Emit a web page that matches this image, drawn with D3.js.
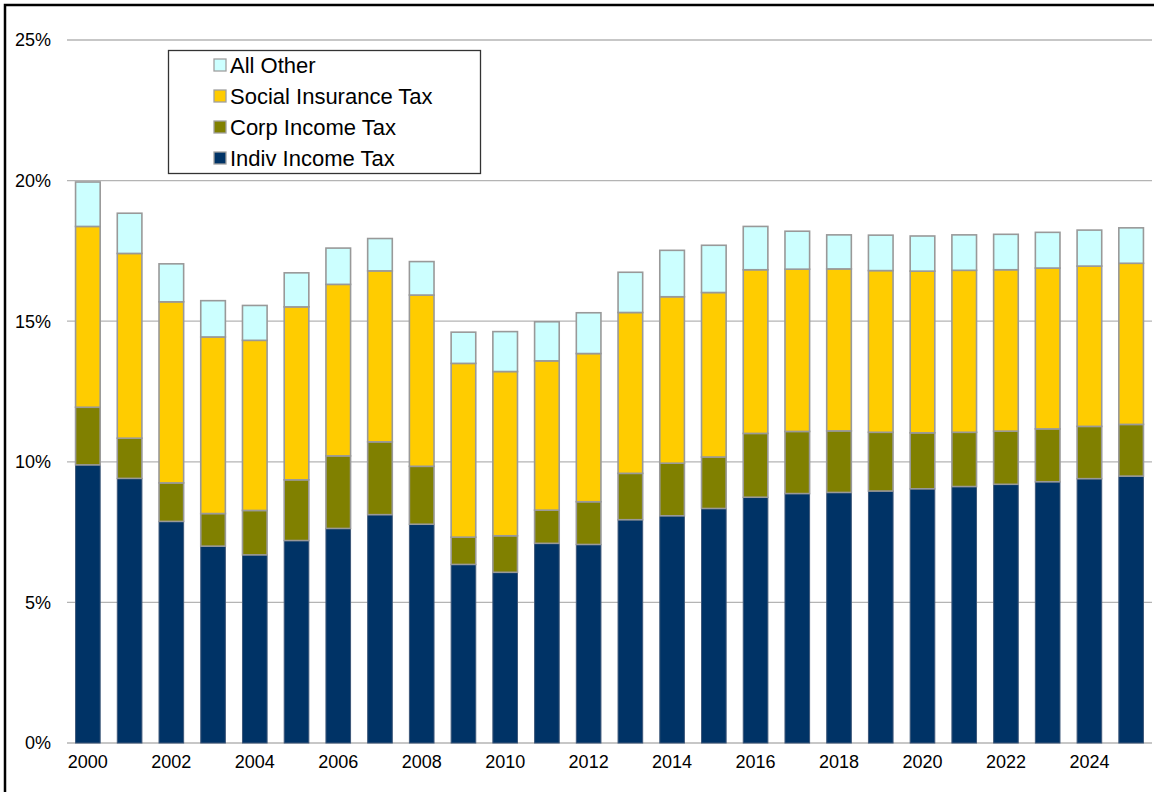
<!DOCTYPE html>
<html>
<head>
<meta charset="utf-8">
<script src="https://cdn.jsdelivr.net/npm/d3@7"></script>
<style>
    body { margin: 0; background: #fff; }
    svg { display: block; font-family: "Liberation Sans", Arial, sans-serif; }
    .grid line { stroke: #b4b4b4; stroke-width: 1.3; }
    .tick-label { font-size: 18px; fill: #000; }
    .legend-label { font-size: 22px; fill: #000; }
</style>
</head>
<body>
<div id="chart"></div>
<script>
// revenue as % of GDP
const years = d3.range(2000, 2026).map(String);
const indivIncome = [9.89, 9.41, 7.88, 7.00, 6.69, 7.20, 7.63, 8.12, 7.78, 6.35, 6.07, 7.10, 7.06, 7.94, 8.08, 8.34, 8.74, 8.87, 8.91, 8.96, 9.04, 9.12, 9.20, 9.29, 9.40, 9.49];
const corpIncome = [2.05, 1.43, 1.37, 1.16, 1.58, 2.16, 2.58, 2.59, 2.06, 0.97, 1.30, 1.18, 1.52, 1.65, 1.87, 1.83, 2.27, 2.21, 2.19, 2.09, 1.99, 1.93, 1.89, 1.88, 1.86, 1.84];
const socialInsurance = [6.43, 6.57, 6.44, 6.28, 6.05, 6.15, 6.10, 6.08, 6.09, 6.18, 5.84, 5.31, 5.27, 5.72, 5.92, 5.85, 5.82, 5.77, 5.76, 5.75, 5.75, 5.76, 5.74, 5.72, 5.70, 5.73];
const allOther = [1.58, 1.43, 1.35, 1.29, 1.24, 1.21, 1.29, 1.15, 1.19, 1.11, 1.42, 1.39, 1.45, 1.43, 1.65, 1.68, 1.54, 1.35, 1.21, 1.26, 1.25, 1.26, 1.26, 1.27, 1.28, 1.26];

const seriesKeys = ['indiv', 'corp', 'social', 'other'];
const seriesNames = ['Indiv Income Tax', 'Corp Income Tax', 'Social Insurance Tax', 'All Other'];
const seriesColors = ['#003366', '#808000', '#FFCC00', '#CCFFFF'];
const yTicks = [0, 5, 10, 15, 20, 25];

const W = 1154, H = 792;
const plot = {left: 67, right: 1152, top: 40, bottom: 743};

const rows = years.map((yr, i) => ({
    year: yr,
    indiv: indivIncome[i],
    corp: corpIncome[i],
    social: socialInsurance[i],
    other: allOther[i]
}));

const svg = d3.select('#chart').append('svg')
    .attr('width', W)
    .attr('height', H);

// outer frame (right and bottom edges fall outside the window)
svg.append('rect')
    .attr('x', 5).attr('y', 5)
    .attr('width', W + 10).attr('height', H + 10)
    .attr('fill', 'none')
    .attr('stroke', '#000')
    .attr('stroke-width', 2.5);

const x = d3.scaleBand()
    .domain(years)
    .range([plot.left, plot.right])
    .paddingInner(0.41)
    .paddingOuter(0.205);

const y = d3.scaleLinear()
    .domain([0, 25])
    .range([plot.bottom, plot.top]);

// horizontal grid + baseline
svg.append('g')
    .attr('class', 'grid')
    .selectAll('line')
    .data(yTicks)
    .enter().append('line')
    .attr('x1', plot.left)
    .attr('x2', plot.right)
    .attr('y1', d => y(d))
    .attr('y2', d => y(d));

// y labels
svg.append('g')
    .selectAll('text')
    .data(yTicks)
    .enter().append('text')
    .attr('class', 'tick-label')
    .attr('x', 51)
    .attr('y', d => y(d))
    .attr('dy', '0.35em')
    .attr('text-anchor', 'end')
    .text(d => d + '%');

// stacked bars
const stacked = d3.stack().keys(seriesKeys)(rows);

const layers = svg.append('g')
    .selectAll('g')
    .data(stacked)
    .enter().append('g')
    .attr('fill', (d, i) => seriesColors[i])
    .attr('stroke', (d, i) => i === 0 ? '#3d5779' : '#999999')
    .attr('stroke-width', (d, i) => i === 0 ? 1 : 1.6);

layers.selectAll('rect')
    .data(d => d)
    .enter().append('rect')
    .attr('x', d => x(d.data.year))
    .attr('width', x.bandwidth())
    .attr('y', d => y(d[1]))
    .attr('height', d => y(d[0]) - y(d[1]));

// x labels, every other year
svg.append('g')
    .selectAll('text')
    .data(years.filter((d, i) => i % 2 === 0))
    .enter().append('text')
    .attr('class', 'tick-label')
    .attr('x', d => x(d) + x.bandwidth() / 2)
    .attr('y', 768)
    .attr('text-anchor', 'middle')
    .text(d => d);

// legend
const legend = svg.append('g');

legend.append('rect')
    .attr('x', 168.5).attr('y', 50.5)
    .attr('width', 312).attr('height', 123)
    .attr('fill', '#fff')
    .attr('stroke', '#333')
    .attr('stroke-width', 1.3);

const legendOrder = [3, 2, 1, 0];
const items = legend.selectAll('.item')
    .data(legendOrder)
    .enter().append('g')
    .attr('class', 'item')
    .attr('transform', (d, i) => `translate(214,${65 + i * 31})`);

items.append('rect')
    .attr('x', 0).attr('y', -6)
    .attr('width', 12).attr('height', 12)
    .attr('fill', d => seriesColors[d])
    .attr('stroke', '#a0a0a0')
    .attr('stroke-width', 1.3);

items.append('text')
    .attr('class', 'legend-label')
    .attr('x', 16)
    .attr('dy', '0.35em')
    .text(d => seriesNames[d]);
</script>
</body>
</html>
